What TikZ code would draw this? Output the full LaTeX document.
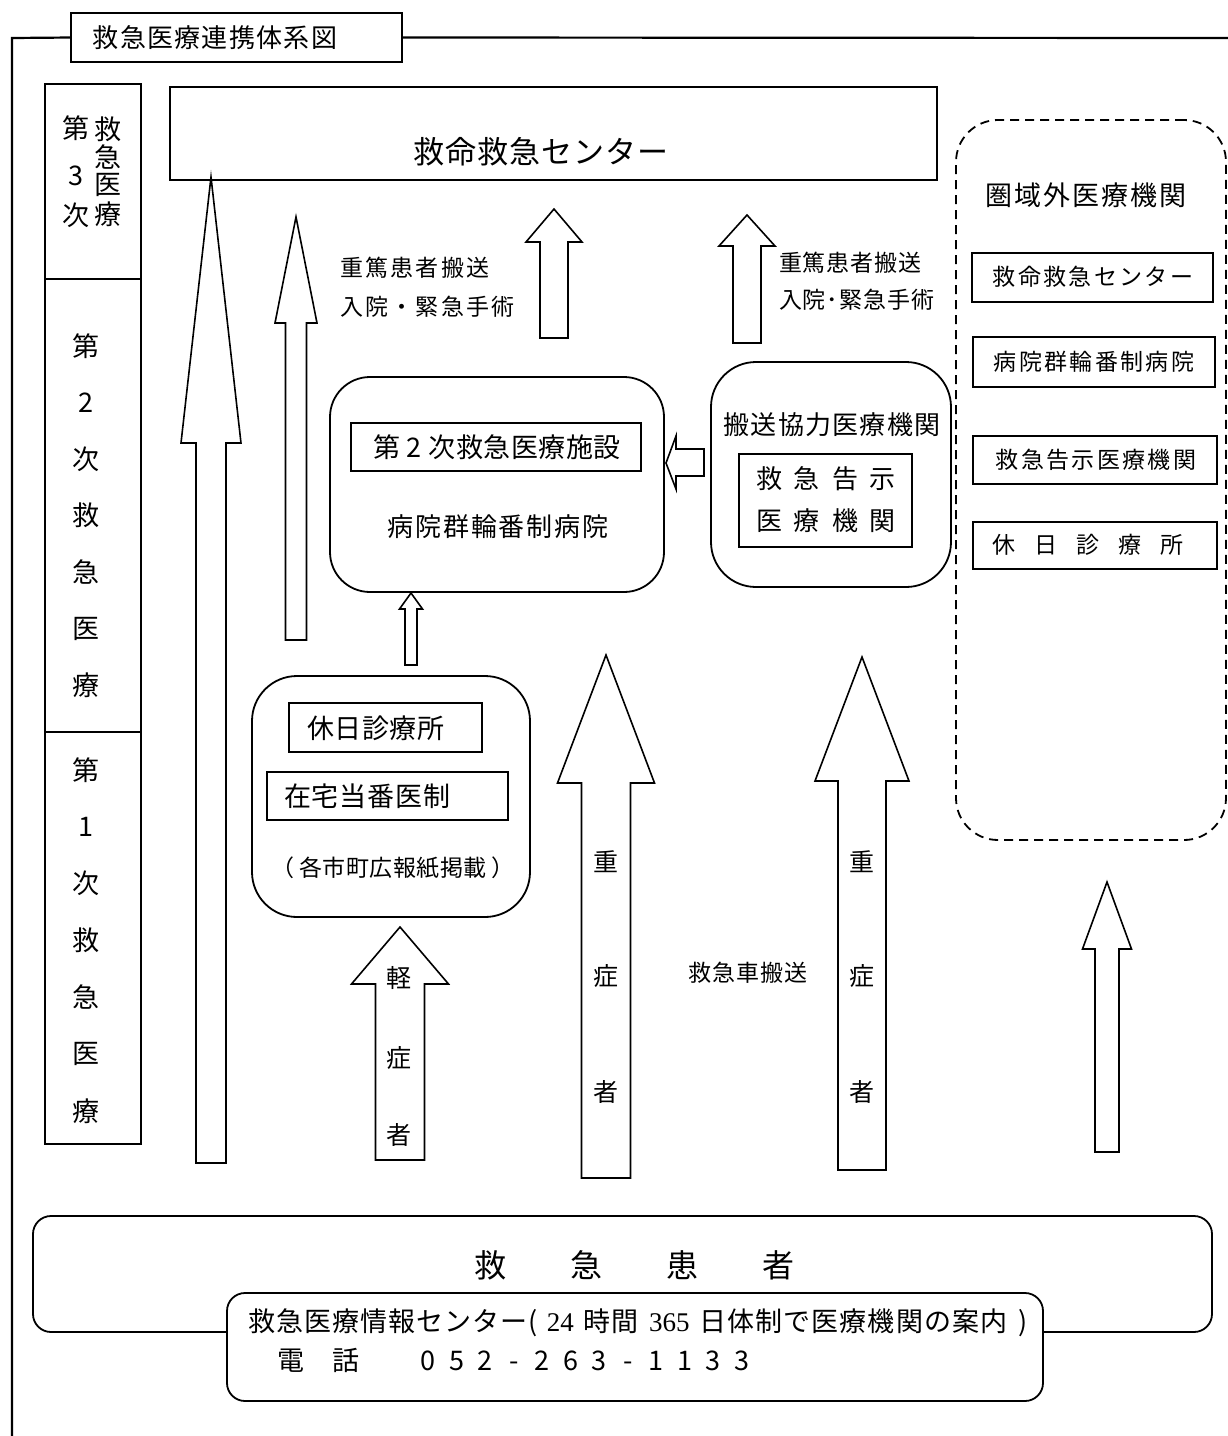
\documentclass[tikz,border=0pt]{standalone}
\usepackage{fontspec}
\setmainfont{Noto Sans CJK JP}
\newfontfamily\serifd{Liberation Serif}
\newcommand\fsz[1]{\fontsize{#1}{#1}\selectfont}
\newcommand\lsp[1]{\addfontfeatures{LetterSpace=#1}}
\newcommand\cb[1]{\makebox[28.5pt]{#1}}
% block arrow pointing up: #1 cx, #2 tip y, #3 head base y, #4 head half width, #5 shaft half width, #6 bottom y
\newcommand\blockup[6]{%
  \draw[arr] (#1,#2) -- ({#1+#4},#3) -- ({#1+#5},#3) -- ({#1+#5},#6) -- ({#1-#5},#6) -- ({#1-#5},#3) -- ({#1-#4},#3) -- cycle;}
\tikzset{
  frame/.style={draw, line width=2.2pt},
  box/.style={draw, line width=1.8pt, inner sep=0pt, outer sep=0pt},
  rbox/.style={draw, line width=1.8pt, inner sep=0pt, outer sep=0pt, rounded corners=#1},
  dbox/.style={draw, line width=1.8pt, inner sep=0pt, outer sep=0pt, rounded corners=42pt, dash pattern=on 9pt off 6pt},
  arr/.style={draw, line width=1.6pt, fill=white, line join=miter},
  txt/.style={inner sep=0pt, outer sep=0pt}
}
\begin{document}
\begin{tikzpicture}[x=1pt,y=-1pt]
\useasboundingbox (0,0) rectangle (1228,1436);
\fill[white] (0,0) rectangle (1228,1436);

% ---- outer frame and title
\node[box, minimum width=331, minimum height=49] (title) at (236.5,37.5) {};
\node[txt] (titletxt) at (215,38) {\fsz{26}\lsp{5}救急医療連携体系図};
\draw[frame] (12,1440) -- (12,38) -- (title.west);
\draw[frame] (title.east) -- (1232,38);

% ---- left column
\node[box, minimum width=96, minimum height=1060] (lcol) at (93,614) {};
\draw[box] (45,279) -- (141,279);
\draw[box] (45,732) -- (141,732);
\node[txt] (c3a) at (76,128) {\fsz{27}第};
\node[txt] (c3b) at (76,176) {\fsz{27}3};
\node[txt] (c3c) at (76,215) {\fsz{27}次};
\node[txt] (c3d) at (108,129) {\fsz{27}救};
\node[txt] (c3e) at (108,157) {\fsz{27}急};
\node[txt] (c3f) at (108,185) {\fsz{27}医};
\node[txt] (c3g) at (108,214) {\fsz{27}療};
\foreach \c [count=\i] in {第,2,次,救,急,医,療}
  \node[txt] (c2-\i) at (86,{346+56.5*(\i-1)}) {\fsz{27}\c};
\foreach \c [count=\i] in {第,1,次,救,急,医,療}
  \node[txt] (c1-\i) at (86,{770+56.8*(\i-1)}) {\fsz{27}\c};

% ---- top box
\node[box, minimum width=767, minimum height=93] (top) at (553.5,133.5) {};
\node[txt] (toptxt) at (541,152) {\fsz{31}\lsp{3}救命救急センター};

% ---- arrows
\blockup{211}{177}{443}{30}{15}{1163}
\blockup{296}{217}{323}{21}{10.5}{640}
\blockup{554}{209}{242}{28}{14}{338}
\blockup{747}{215}{246}{28}{14}{343}
\blockup{411}{593}{609}{11.5}{6}{665}
\blockup{400}{927}{984}{48.5}{24.5}{1160}
\blockup{606}{655}{783}{48.5}{24.5}{1178}
\blockup{862}{657}{781}{47}{24}{1170}
\blockup{1107}{882}{949}{24.5}{12}{1152}
\draw[arr] (666,463) -- (676,436) -- (676,449) -- (704,449) -- (704,476) -- (676,476) -- (676,489) -- cycle;

% ---- transport labels
\node[txt, anchor=west] (l1a) at (340,268) {\fsz{23}\lsp{10}重篤患者搬送};
\node[txt, anchor=west] (l1b) at (340,307) {\fsz{23}\lsp{10}入院・緊急手術};
\node[txt, anchor=west] (l2a) at (779,263) {\fsz{23}\lsp{4}重篤患者搬送};
\node[txt, anchor=west] (l2b) at (779,300) {\fsz{23}\lsp{4}入院･緊急手術};

% ---- secondary centre
\node[rbox=40pt, minimum width=334, minimum height=215] (sec) at (497,484.5) {};
\node[box, minimum width=290, minimum height=48] (secin) at (496,447) {};
\node[txt] (secintxt) at (497,447) {\fsz{27}\lsp{2}第 2 次救急医療施設};
\node[txt] (sectxt) at (498,527) {\fsz{26}\lsp{7}病院群輪番制病院};

% ---- transport cooperation
\node[rbox=45pt, minimum width=240, minimum height=225] (coop) at (831,474.5) {};
\node[txt] (cooptxt) at (832,425) {\fsz{26}\lsp{5}搬送協力医療機関};
\node[box, minimum width=173, minimum height=93] (coopin) at (825.5,500.5) {};
\node[txt] (coopa) at (826,479) {\fsz{26}救\hspace{12pt}急\hspace{12pt}告\hspace{12pt}示};
\node[txt] (coopb) at (826,521) {\fsz{26}医\hspace{12pt}療\hspace{12pt}機\hspace{12pt}関};

% ---- primary box
\node[rbox=45pt, minimum width=278, minimum height=241] (prim) at (391,796.5) {};
\node[box, minimum width=193, minimum height=49] (hol) at (385.5,727.5) {};
\node[txt, anchor=west] (holtxt) at (307,728) {\fsz{27}\lsp{2}休日診療所};
\node[box, minimum width=241, minimum height=48] (home) at (387.5,796) {};
\node[txt, anchor=west] (hometxt) at (284,796) {\fsz{27}\lsp{3}在宅当番医制};
\node[txt] (primtxt) at (393,868) {\fsz{23}\lsp{2}（\hspace{5pt}各市町広報紙掲載\hspace{5pt}）};

% ---- arrow labels
\node[txt] (k1) at (399,978) {\fsz{25}軽};
\node[txt] (k2) at (399,1058) {\fsz{25}症};
\node[txt] (k3) at (399,1135) {\fsz{25}者};
\node[txt] (j1) at (606,862) {\fsz{25}重};
\node[txt] (j2) at (606,976) {\fsz{25}症};
\node[txt] (j3) at (606,1092) {\fsz{25}者};
\node[txt] (m1) at (862,862) {\fsz{25}重};
\node[txt] (m2) at (862,976) {\fsz{25}症};
\node[txt] (m3) at (862,1092) {\fsz{25}者};
\node[txt] (amb) at (748,973) {\fsz{23}\lsp{4}救急車搬送};

% ---- outside region
\node[dbox, minimum width=270, minimum height=720] (out) at (1091,480) {};
\node[txt] (outtxt) at (1086,195) {\fsz{27}\lsp{7}圏域外医療機関};
\node[box, minimum width=241, minimum height=49] (o1) at (1092.5,277.5) {};
\node[txt] (o1t) at (1093,277) {\fsz{23}\lsp{10}救命救急センター};
\node[box, minimum width=242, minimum height=50] (o2) at (1094,362) {};
\node[txt] (o2t) at (1094,362) {\fsz{23}\lsp{10}病院群輪番制病院};
\node[box, minimum width=244, minimum height=48] (o3) at (1095,460) {};
\node[txt] (o3t) at (1096,460) {\fsz{23}\lsp{10}救急告示医療機関};
\node[box, minimum width=244, minimum height=47] (o4) at (1095,545.5) {};
\node[txt] (o4t) at (1088,545) {\fsz{23}休\hspace{19pt}日\hspace{19pt}診\hspace{19pt}療\hspace{19pt}所};

% ---- patients and info centre
\node[rbox=18pt, minimum width=1179, minimum height=116] (pat) at (622.5,1274) {};
\node[txt] (pattxt) at (634,1265) {\fsz{32}救\hspace{64pt}急\hspace{64pt}患\hspace{64pt}者};
\node[rbox=18pt, fill=white, minimum width=816, minimum height=108] (info) at (635,1347) {};
\node[txt, anchor=west] (info1) at (248,1323) {\fsz{27}\lsp{4}救急医療情報センター(\hspace{9pt}{\serifd 24}\hspace{10pt}時間\hspace{10pt}{\serifd 365}\hspace{10pt}日体制で医療機関の案内\hspace{11pt})};
\node[txt, anchor=west] (info2) at (277,1360) {\fsz{27}電\hspace{28pt}話\hspace{55pt}\cb0\cb5\cb2\cb-\cb2\cb6\cb3\cb-\cb1\cb1\cb3\cb3};
\end{tikzpicture}
\end{document}
